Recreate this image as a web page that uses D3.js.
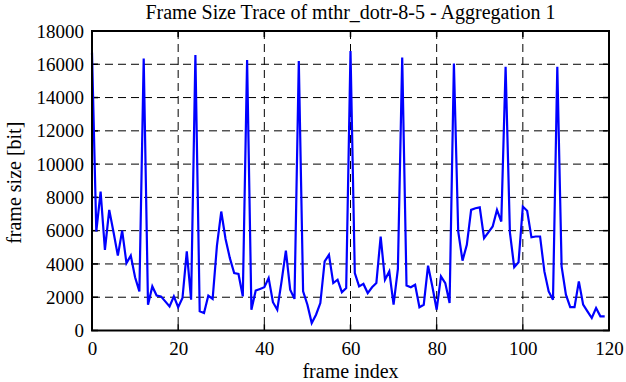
<!DOCTYPE html>
<html>
<head>
<meta charset="utf-8">
<script src="https://cdn.jsdelivr.net/npm/d3@7"></script>
<style>
  html, body { margin: 0; padding: 0; background: #fff; }
</style>
</head>
<body>
<svg id="chart" width="626" height="382"></svg>
<script>
const title = "Frame Size Trace of mthr_dotr-8-5 - Aggregation 1";
const xLabel = "frame index";
const yLabel = "frame size [bit]";
const xTicks = [0, 20, 40, 60, 80, 100, 120];
const yTicks = [0, 2000, 4000, 6000, 8000, 10000, 12000, 14000, 16000, 18000];
const frameSizes = [
  16700, 5950, 8350, 4850, 7250, 5900, 4500, 6000, 4050, 4500,
  3200, 2350, 16350, 1550, 2650, 2100, 2050, 1750, 1450, 2050,
  1400, 1950, 4750, 1850, 16550, 1150, 1050, 2100, 1900, 5100,
  7150, 5500, 4350, 3450, 3400, 2050, 16250, 1250, 2400, 2500,
  2600, 3150, 1700, 1250, 2950, 4800, 2450, 1900, 16200, 2350,
  1550, 450, 950, 1650, 4150, 4550, 2850, 3050, 2300, 2550,
  16800, 3450, 2650, 2800, 2250, 2600, 2850, 5650, 3050, 3550,
  1550, 3700, 16400, 2700, 2600, 2750, 1400, 1550, 3900, 2650,
  1250, 3250, 2850, 1650, 16050, 5950, 4200, 5150, 7250, 7350,
  7400, 5550, 5900, 6250, 7250, 6550, 15850, 5900, 3800, 4100,
  7450, 7200, 5600, 5650, 5650, 3550, 2350, 1850, 15850, 3850,
  2150, 1400, 1400, 2950, 1550, 1150, 750, 1350, 850, 850
];

const FONT = "'Liberation Serif', 'Times New Roman', serif";
const svg = d3.select("#chart");
const L = 92, R = 609, T = 31, B = 330.5;
const x = d3.scaleLinear().domain([0, 120]).range([L, R]);
const y = d3.scaleLinear().domain([0, 18000]).range([B, T]);
const fs = 20, tfs = 19, tickLen = 6;

// grid
const grid = svg.append("g").attr("stroke", "#000").attr("stroke-width", 1)
  .attr("stroke-dasharray", "8,5").attr("fill", "none");
xTicks.filter(v => v > 0 && v < 120).forEach(v => {
  grid.append("line").attr("x1", x(v)).attr("x2", x(v)).attr("y1", T).attr("y2", B);
});
yTicks.filter(v => v > 0 && v < 18000).forEach(v => {
  grid.append("line").attr("x1", L).attr("x2", R).attr("y1", y(v)).attr("y2", y(v));
});

// axes (labels via d3 axis)
const xAxis = svg.append("g").attr("transform", `translate(0,${B})`)
  .call(d3.axisBottom(x).tickValues(xTicks).tickFormat(d3.format("d")).tickSize(0).tickPadding(7));
const yAxis = svg.append("g").attr("transform", `translate(${L},0)`)
  .call(d3.axisLeft(y).tickValues(yTicks).tickFormat(d3.format("d")).tickSize(0).tickPadding(8));
[xAxis, yAxis].forEach(g => {
  g.attr("font-family", null).attr("font-size", null);
  g.select(".domain").remove();
  g.selectAll("text").style("font-family", FONT).style("font-size", tfs + "px").attr("fill", "#000");
});
xAxis.selectAll("text").attr("dy", "0.9em");

// inward mirrored ticks
const ticks = svg.append("g").attr("stroke", "#000").attr("stroke-width", 1.5);
xTicks.forEach(v => {
  ticks.append("line").attr("x1", x(v)).attr("x2", x(v)).attr("y1", B).attr("y2", B - tickLen);
  ticks.append("line").attr("x1", x(v)).attr("x2", x(v)).attr("y1", T).attr("y2", T + tickLen);
});
yTicks.forEach(v => {
  ticks.append("line").attr("x1", L).attr("x2", L + tickLen).attr("y1", y(v)).attr("y2", y(v));
  ticks.append("line").attr("x1", R).attr("x2", R - tickLen).attr("y1", y(v)).attr("y2", y(v));
});

// data line
const line = d3.line().x((d, i) => x(i)).y(d => y(d));
svg.append("path").datum(frameSizes).attr("d", line)
  .attr("fill", "none").attr("stroke", "#0000ff").attr("stroke-width", 2.2)
  .attr("stroke-linejoin", "miter");

// border
svg.append("rect").attr("x", L).attr("y", T).attr("width", R - L).attr("height", B - T)
  .attr("fill", "none").attr("stroke", "#000").attr("stroke-width", 2);

// titles
function label(sel) { return sel.style("font-family", FONT).style("font-size", fs + "px").attr("fill", "#000"); }
label(svg.append("text").attr("x", (L + R) / 2).attr("y", 19).attr("text-anchor", "middle")).text(title);
label(svg.append("text").attr("x", (L + R) / 2).attr("y", 378).attr("text-anchor", "middle")).text(xLabel);
label(svg.append("text").attr("transform", `translate(21,${(T + B) / 2 + 2}) rotate(-90)`)
  .attr("text-anchor", "middle")).text(yLabel);
</script>
</body>
</html>
